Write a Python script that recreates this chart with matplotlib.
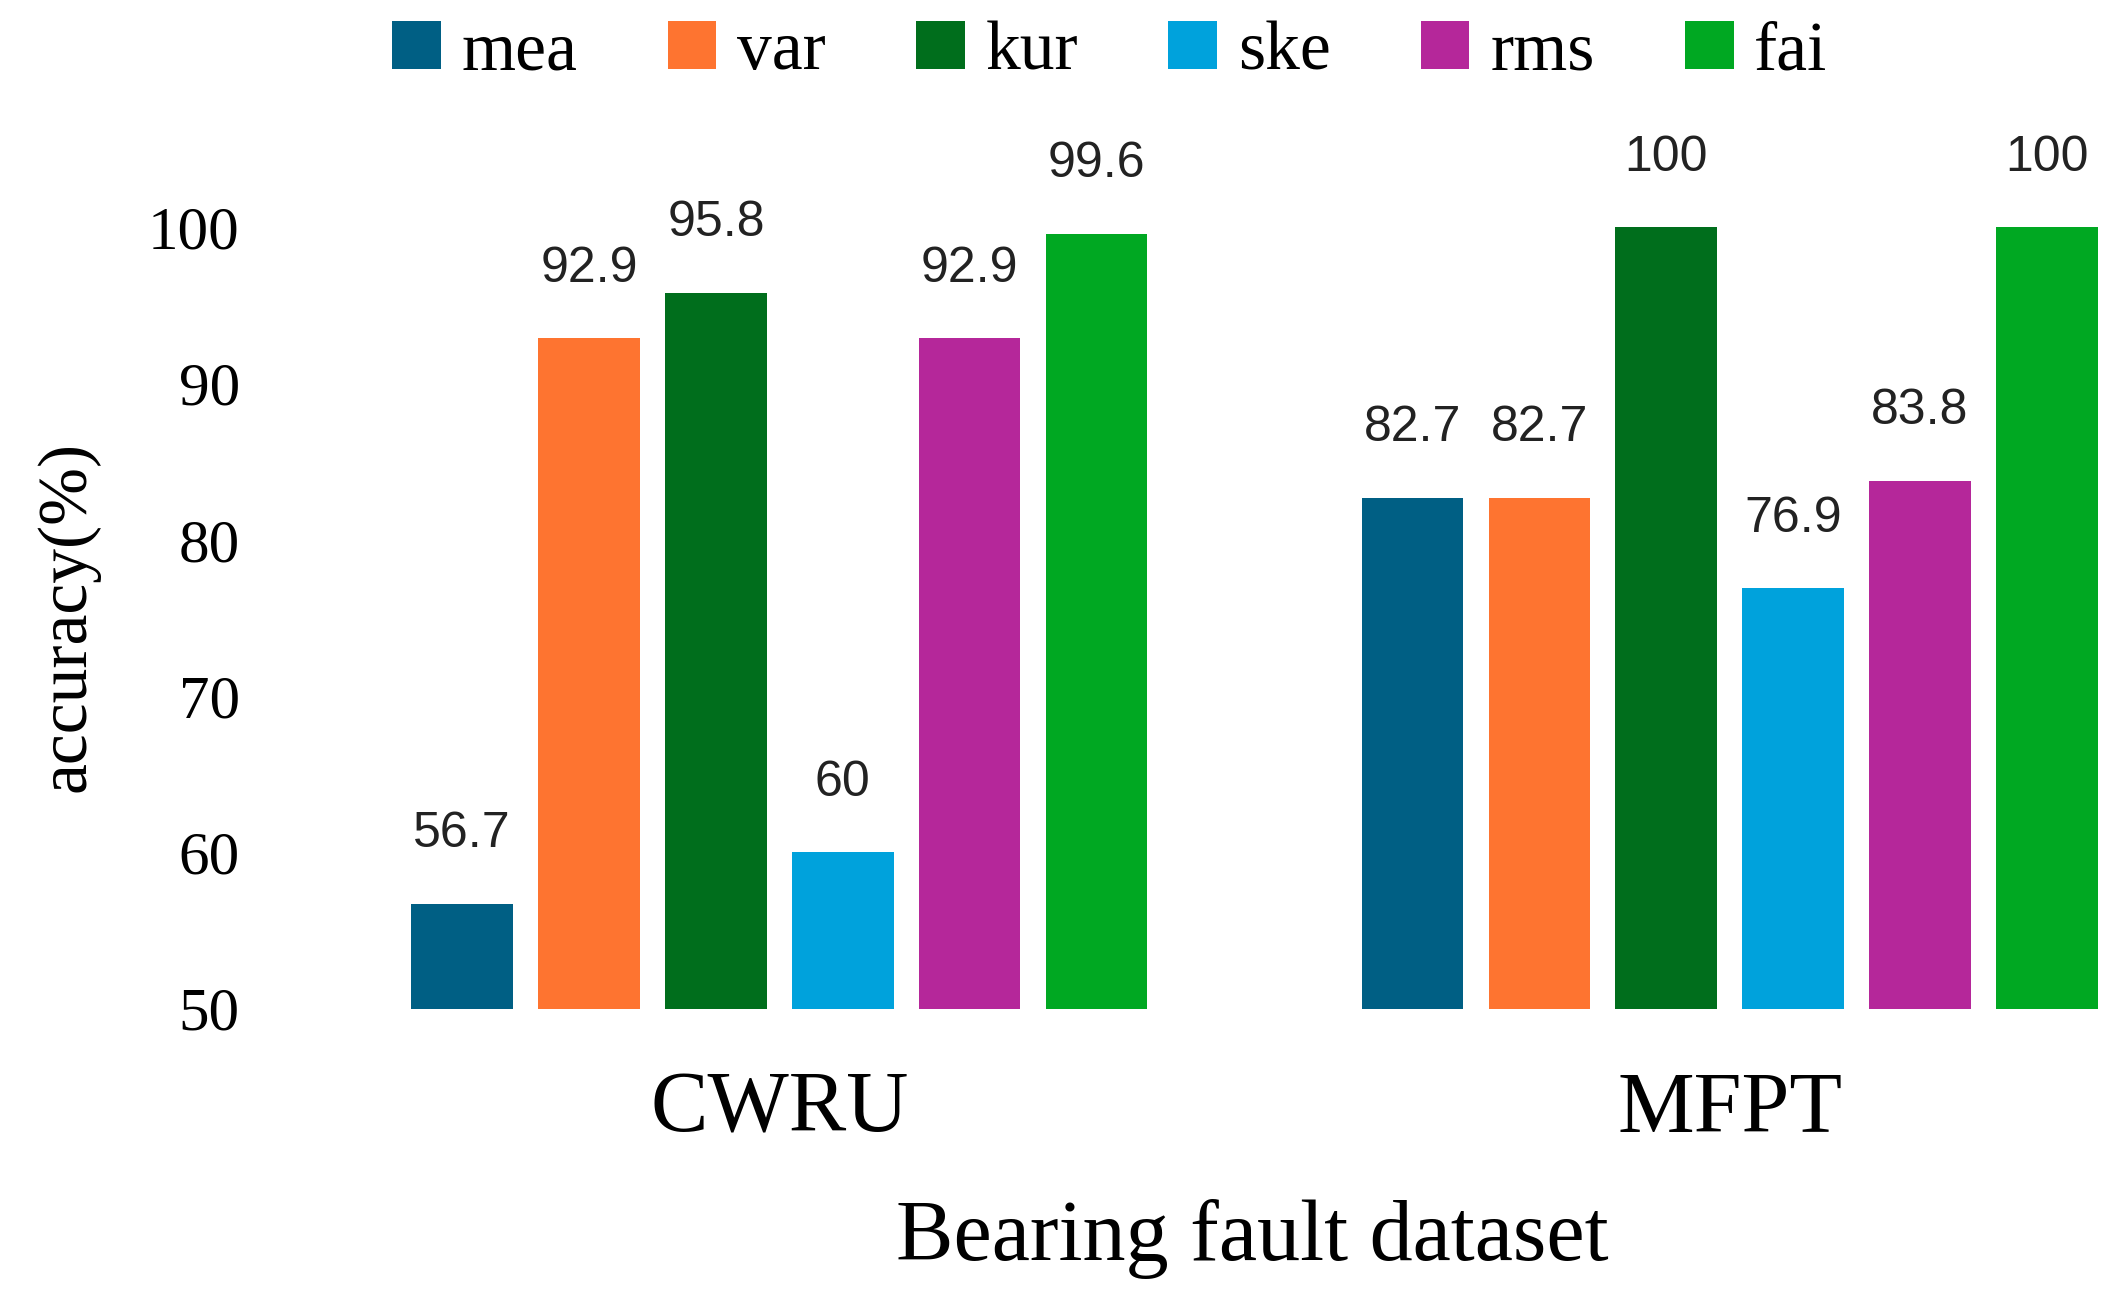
import matplotlib
matplotlib.use("Agg")
import matplotlib.pyplot as plt
import numpy as np

datasets = ["CWRU", "MFPT"]
features = ["mea", "var", "kur", "ske", "rms", "fai"]
values = {
    "mea": [56.7, 82.7],
    "var": [92.9, 82.7],
    "kur": [95.8, 100],
    "ske": [60, 76.9],
    "rms": [92.9, 83.8],
    "fai": [99.6, 100],
}
colors = ["#005f84", "#fe7430", "#006e1c", "#00a2dc", "#b5279a", "#00a822"]
yticks = [50, 60, 70, 80, 90, 100]

plt.rcParams['font.family'] = ['Liberation Serif', 'DejaVu Serif']
fig = plt.figure(figsize=(21.22, 13.15), dpi=100)
ax = fig.add_axes([0.185, 0.233, 0.807, 0.594])
x = np.arange(len(datasets))
step = 0.1335
width = 0.107
for i, (f, c) in enumerate(zip(features, colors)):
    pos = x + (i - 2.5) * step
    bars = ax.bar(pos, values[f], width, bottom=0, color=c, label=f)
    for p, v in zip(pos, values[f]):
        ax.text(p, v + 3, f"{v:g}", ha="center", va="bottom", fontsize=36,
                family=["Liberation Sans", "DejaVu Sans"], color="#222222", clip_on=False)
ax.set_ylim(50, 100)
ax.set_xlim(-0.407, 1.395)
ax.set_yticks(yticks)
ax.set_xticks(x)
ax.set_xticklabels(datasets)
ax.tick_params(axis="y", length=0, labelsize=44, pad=110)
ax.tick_params(axis="x", length=0, labelsize=62, pad=45)
for s in ax.spines.values():
    s.set_visible(False)
fig.text(0.59, 0.058, "Bearing fault dataset", ha="center", va="center", fontsize=62)
fig.text(0.032, 0.531, "accuracy(%)", ha="center", va="center", rotation=90, fontsize=50)
fig.legend(loc="center", bbox_to_anchor=(0.523, 0.96), ncol=6, frameon=False,
           fontsize=50, handlelength=0.7, handleheight=0.7, handletextpad=0.3,
           columnspacing=1.3)
fig.savefig("out.png", dpi=100)
